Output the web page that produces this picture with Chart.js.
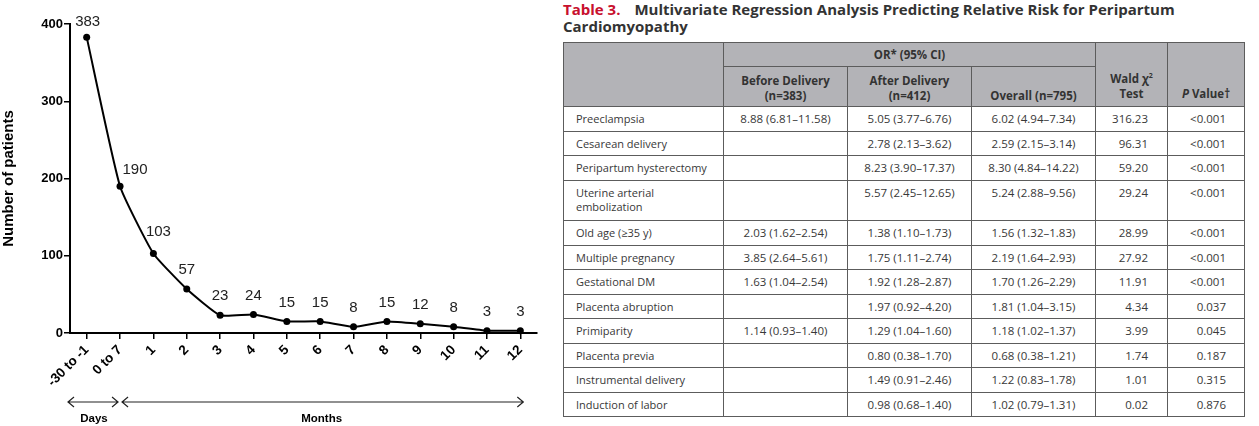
<!DOCTYPE html>
<html>
<head>
<meta charset="utf-8">
<script src="https://cdn.jsdelivr.net/npm/chart.js@4.4.0/dist/chart.umd.min.js"></script>
<style>
  html, body { margin: 0; padding: 0; background: #fff; }
  body { width: 1259px; height: 426px; position: relative; overflow: hidden; }
  #chartBox { position: absolute; left: 0; top: 0; width: 560px; height: 426px; }
  #tableBox { position: absolute; left: 563px; top: 0; width: 681px; font-family: "Open Sans", sans-serif; color: #383838; }
  .title { font-weight: bold; font-size: 15px; line-height: 17px; color: #333; height: 41px; padding-top: 1px; }
  .title .num { color: #c8102e; margin-right: 14px; }
  table { border-collapse: collapse; table-layout: fixed; width: 681px; font-size: 11.5px; }
  th, td { border: 1px solid #5c5c5c; }
  th { background: #b3b3b7; font-weight: bold; font-size: 11.5px; color: #333; line-height: 15px; vertical-align: bottom; padding: 0 4px 3px 4px; text-align: center; }
  td { line-height: 14px; padding: 5px 4px 4px 4px; vertical-align: top; text-align: center; white-space: nowrap; height: 14.5px; }
  td.lab { text-align: left; padding-left: 12px; white-space: pre-line; font-size: 11px; }
  td.num { text-align: right; padding-right: 18px; }
</style>
</head>
<body>
<div id="chartBox"><canvas id="myChart"></canvas></div>
<div id="tableBox">
  <div class="title"><span class="num">Table 3.</span>Multivariate Regression Analysis Predicting Relative Risk for Peripartum Cardiomyopathy</div>
  <table id="orTable"></table>
</div>
<script>
// chart data
const periods = ['-30 to -1', '0 to 7', '1', '2', '3', '4', '5', '6', '7', '8', '9', '10', '11', '12'];
const patients = [383, 190, 103, 57, 23, 24, 15, 15, 8, 15, 12, 8, 3, 3];
const yTicks = [0, 100, 200, 300, 400];

// table data
const riskFactors = ['Preeclampsia', 'Cesarean delivery', 'Peripartum hysterectomy', 'Uterine arterial\nembolization',
  'Old age (≥35 y)', 'Multiple pregnancy', 'Gestational DM', 'Placenta abruption', 'Primiparity',
  'Placenta previa', 'Instrumental delivery', 'Induction of labor'];
const beforeDelivery = ['8.88 (6.81–11.58)', '', '', '', '2.03 (1.62–2.54)', '3.85 (2.64–5.61)', '1.63 (1.04–2.54)',
  '', '1.14 (0.93–1.40)', '', '', ''];
const afterDelivery = ['5.05 (3.77–6.76)', '2.78 (2.13–3.62)', '8.23 (3.90–17.37)', '5.57 (2.45–12.65)',
  '1.38 (1.10–1.73)', '1.75 (1.11–2.74)', '1.92 (1.28–2.87)', '1.97 (0.92–4.20)', '1.29 (1.04–1.60)',
  '0.80 (0.38–1.70)', '1.49 (0.91–2.46)', '0.98 (0.68–1.40)'];
const overall = ['6.02 (4.94–7.34)', '2.59 (2.15–3.14)', '8.30 (4.84–14.22)', '5.24 (2.88–9.56)',
  '1.56 (1.32–1.83)', '2.19 (1.64–2.93)', '1.70 (1.26–2.29)', '1.81 (1.04–3.15)', '1.18 (1.02–1.37)',
  '0.68 (0.38–1.21)', '1.22 (0.83–1.78)', '1.02 (0.79–1.31)'];
const waldChi2 = ['316.23', '96.31', '59.20', '29.24', '28.99', '27.92', '11.91', '4.34', '3.99', '1.74', '1.01', '0.02'];
const pValues = ['<0.001', '<0.001', '<0.001', '<0.001', '<0.001', '<0.001', '<0.001', '0.037', '0.045', '0.187', '0.315', '0.876'];

function buildTable() {
  const t = document.getElementById('orTable');
  let html = '<colgroup><col style="width:160px"><col style="width:124px"><col style="width:124px">' +
    '<col style="width:124px"><col style="width:72px"><col style="width:77px"></colgroup>';
  html += '<tr style="height:24px"><th rowspan="2"></th><th colspan="3" style="vertical-align:middle;padding-bottom:0">OR* (95% CI)</th>' +
    '<th rowspan="2" style="padding-bottom:5px">Wald χ<sup style="font-size:7px">2</sup><br>Test</th>' +
    '<th rowspan="2" style="padding-bottom:5px"><i>P</i> Value†</th></tr>';
  html += '<tr style="height:40px"><th>Before Delivery<br>(n=383)</th><th>After Delivery<br>(n=412)</th><th>Overall (n=795)</th></tr>';
  const esc = s => s.replace(/</g, '&lt;');
  riskFactors.forEach((rf, i) => {
    const h = rf.includes('\n') ? 30.5 : 14.5;
    html += '<tr><td class="lab" style="height:' + h + 'px">' + rf + '</td>' +
      '<td>' + beforeDelivery[i] + '</td><td>' + afterDelivery[i] + '</td><td>' + overall[i] + '</td>' +
      '<td class="num" style="padding-right:19px">' + waldChi2[i] + '</td>' +
      '<td class="num">' + esc(pValues[i]) + '</td></tr>';
  });
  t.innerHTML = html;
}
buildTable();

Chart.defaults.font.family = '"Liberation Sans", Arial, sans-serif';
Chart.defaults.color = '#000';

const annotations = {
  id: 'annotations',
  afterDatasetsDraw(chart) {
    const ctx = chart.ctx;
    const meta = chart.getDatasetMeta(0);
    const xs = chart.scales.x;
    ctx.save();
    // value labels
    ctx.font = '15px "Liberation Sans", Arial, sans-serif';
    ctx.fillStyle = '#222';
    ctx.textAlign = 'center';
    ctx.textBaseline = 'middle';
    meta.data.forEach((pt, i) => {
      let dx = 0, dy = -19;
      if (i === 0) { dx = 1; dy = -15; }
      if (i === 1) { dx = 15; dy = -16; }
      if (i === 2) { dx = 5; dy = -22; }
      ctx.fillText(String(patients[i]), pt.x + dx, pt.y + dy);
    });
    // Days / Months arrows
    const y = 402;
    const a = chart.chartArea.left - 2;
    const b = xs.getPixelForValue(1);
    const c = xs.getPixelForValue(periods.length - 1) + 3;
    ctx.strokeStyle = '#222';
    ctx.lineWidth = 1.2;
    const arrow = (x1, x2) => {
      ctx.beginPath();
      ctx.moveTo(x1, y); ctx.lineTo(x2, y);
      ctx.moveTo(x1 + 6, y - 5); ctx.lineTo(x1, y); ctx.lineTo(x1 + 6, y + 5);
      ctx.moveTo(x2 - 6, y - 5); ctx.lineTo(x2, y); ctx.lineTo(x2 - 6, y + 5);
      ctx.stroke();
    };
    arrow(a, b - 2);
    arrow(b + 2, c);
    ctx.fillStyle = '#000';
    ctx.font = 'bold 11.5px "Liberation Sans", Arial, sans-serif';
    ctx.fillText('Days', (a + b) / 2, 419);
    ctx.fillText('Months', (b + c) / 2, 419);
    ctx.restore();
  }
};

new Chart(document.getElementById('myChart'), {
  type: 'line',
  data: {
    labels: periods,
    datasets: [{
      data: patients,
      borderColor: '#000',
      backgroundColor: '#000',
      borderWidth: 2,
      pointRadius: 3.5,
      pointBorderWidth: 0,
      tension: 0.15,
      clip: false
    }]
  },
  options: {
    responsive: true,
    maintainAspectRatio: false,
    animation: false,
    events: [],
    layout: { padding: { top: 24, right: 23, bottom: 0, left: 0 } },
    plugins: { legend: { display: false }, tooltip: { enabled: false } },
    scales: {
      x: {
        offset: true,
        afterFit(scale) { scale.height = 93; },
        border: { display: true, color: '#000', width: 2 },
        grid: { drawOnChartArea: false, drawTicks: true, tickLength: 6, color: '#000', lineWidth: 1.5 },
        ticks: { minRotation: 45, maxRotation: 45, padding: 3, color: '#000', font: { size: 13.5, weight: 'bold' } }
      },
      y: {
        min: 0,
        max: 400,
        afterFit(scale) { scale.width = 70; },
        afterBuildTicks(scale) { scale.ticks = yTicks.map(v => ({ value: v })); },
        border: { display: true, color: '#000', width: 2 },
        grid: { drawOnChartArea: false, drawTicks: true, tickLength: 6, color: '#000', lineWidth: 1.5 },
        ticks: { padding: 1, color: '#000', font: { size: 13, weight: 'bold' } },
        title: { display: true, text: 'Number of patients', color: '#000', font: { size: 15, weight: 'bold' }, padding: 0 }
      }
    }
  },
  plugins: [annotations]
});
</script>
</body>
</html>
